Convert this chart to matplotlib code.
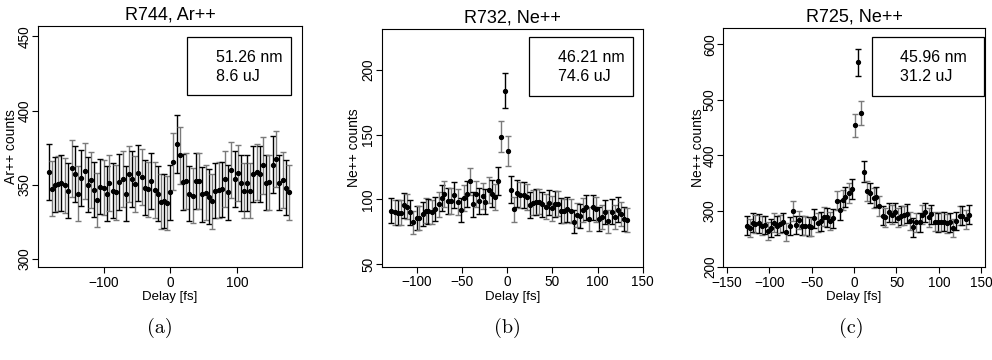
import numpy as np
import matplotlib
matplotlib.use('Agg')
import matplotlib.pyplot as plt
from matplotlib.patches import Rectangle

plt.rcParams['font.family'] = ['Liberation Sans', 'DejaVu Sans']
plt.rcParams['axes.unicode_minus'] = True

# ---------------- data ----------------
titles = ["R744, Ar++", "R732, Ne++", "R725, Ne++"]
ylabels = ["Ar++ counts", "Ne++ counts", "Ne++ counts"]
info_lines = [["51.26 nm", "8.6 uJ"], ["46.21 nm", "74.6 uJ"], ["45.96 nm", "31.2 uJ"]]
sub_labels = ["(a)", "(b)", "(c)"]

delay_a = [-182.4, -177.3, -172.8, -168.8, -163.7, -158.7, -153.7, -148.6, -143.6, -138.5,
           -134.0, -129.0, -124.4, -119.9, -114.8, -109.8, -105.3, -100.3, -95.7, -91.7,
           -86.6, -81.6, -76.6, -71.5, -67.0, -62.0, -57.4, -52.9, -47.9, -42.8,
           -38.3, -33.2, -28.7, -23.7, -19.1, -14.1, -9.1, -4.5, 0.0, 4.5,
           9.6, 14.6, 19.1, 23.7, 28.7, 33.7, 38.8, 43.3, 48.3, 53.4,
           57.9, 62.9, 67.5, 72.5, 77.0, 82.1, 87.1, 91.6, 96.7, 101.2,
           106.2, 111.3, 115.8, 120.3, 124.9, 129.9, 134.9, 139.5, 144.0, 149.0,
           154.1, 158.6, 163.7, 168.7, 173.7, 178.3]
counts_a = [358.8, 347.3, 350.0, 350.7, 351.1, 349.5, 346.0, 361.0, 357.0, 344.0,
            354.7, 359.0, 350.0, 353.0, 346.6, 339.6, 348.6, 348.0, 344.0, 351.0,
            346.0, 345.0, 352.0, 354.0, 344.0, 357.0, 353.8, 350.5, 357.7, 355.0,
            348.0, 346.8, 352.7, 346.4, 344.0, 338.5, 339.0, 337.8, 345.0, 365.5,
            377.5, 370.0, 351.8, 352.7, 344.0, 342.6, 352.7, 352.7, 343.7, 344.6,
            342.0, 338.7, 346.0, 346.4, 347.0, 353.6, 344.8, 359.7, 354.0, 357.7,
            351.0, 346.0, 351.0, 346.0, 357.4, 358.3, 357.0, 363.0, 351.4, 351.6,
            363.5, 367.3, 351.4, 353.4, 348.0, 344.8]

delay_b = [-128.4, -124.4, -121.5, -117.8, -114.5, -111.3, -107.6, -104.0, -100.4, -97.8,
           -93.8, -90.2, -87.3, -83.6, -80.0, -76.0, -72.7, -69.5, -65.5, -62.5,
           -58.5, -54.5, -51.3, -48.0, -44.7, -41.1, -37.8, -34.5, -30.9, -27.3,
           -24.4, -20.4, -17.1, -13.5, -9.8, -6.5, -2.9, 0.7, 4.0, 7.6,
           10.9, 14.5, 18.2, 21.5, 25.1, 28.7, 32.0, 35.3, 38.9, 42.5,
           46.2, 49.5, 53.1, 56.4, 60.0, 63.3, 66.5, 70.2, 73.5, 76.7,
           80.4, 84.0, 87.6, 90.9, 94.5, 97.8, 101.5, 104.7, 108.4, 112.0,
           115.6, 118.9, 122.5, 125.8, 129.5, 133.0]
counts_b = [91.2, 90.0, 89.7, 89.7, 95.4, 94.3, 90.0, 82.2, 85.6, 85.6,
            88.4, 91.2, 90.7, 90.2, 92.5, 96.1, 101.0, 103.9, 98.7, 98.7,
            103.4, 97.7, 91.8, 101.0, 103.9, 113.9, 96.1, 103.9, 98.7, 102.3,
            98.2, 107.2, 104.4, 102.0, 114.2, 148.5, 184.0, 137.4, 107.5, 92.3,
            104.6, 103.1, 103.1, 102.1, 95.6, 97.4, 97.7, 98.2, 96.1, 94.3,
            97.4, 93.0, 96.4, 96.6, 91.2, 91.0, 92.3, 91.0, 82.7, 87.6,
            87.4, 91.8, 93.8, 84.8, 93.8, 92.3, 85.0, 86.3, 90.2, 83.0,
            90.5, 86.0, 92.0, 88.7, 84.5, 83.8]

delay_c = [-126.4, -123.3, -119.7, -116.5, -112.6, -109.0, -105.6, -102.0, -98.0, -94.5,
           -90.9, -87.8, -83.5, -79.9, -76.0, -72.0, -68.5, -65.0, -61.4, -57.9,
           -53.9, -50.4, -46.9, -42.9, -39.0, -35.1, -31.5, -28.0, -24.4, -20.8,
           -16.9, -13.7, -10.3, -6.3, -2.7, 0.8, 4.7, 8.2, 11.8, 15.4,
           18.9, 22.9, 26.3, 29.9, 33.5, 37.0, 41.0, 44.4, 48.0, 51.6,
           55.1, 58.7, 62.6, 66.1, 69.7, 73.6, 77.2, 80.7, 84.2, 87.8,
           91.3, 95.3, 98.9, 102.4, 105.9, 109.8, 113.4, 117.0, 120.5, 124.4,
           127.9, 131.9, 135.1]
counts_c = [274.0, 269.0, 279.0, 277.0, 278.0, 274.0, 275.0, 264.0, 269.5, 279.0,
            274.0, 277.0, 280.0, 262.0, 273.0, 300.0, 275.0, 284.0, 274.0, 274.0,
            272.5, 271.0, 287.0, 279.0, 281.4, 290.0, 289.0, 282.0, 287.4, 319.0,
            302.0, 320.0, 325.0, 332.0, 339.5, 454.0, 567.7, 477.0, 371.0, 336.0,
            332.0, 323.0, 325.0, 309.6, 291.6, 289.0, 297.6, 293.4, 297.6, 288.0,
            292.0, 292.8, 295.0, 282.0, 270.7, 279.6, 279.6, 293.4, 298.0, 289.0,
            294.6, 280.8, 280.0, 280.8, 280.8, 277.8, 280.0, 269.5, 282.0, 291.6,
            291.6, 285.0, 293.4]

xticks = [[-100, 0, 100], [-100, -50, 0, 50, 100, 150], [-150, -100, -50, 0, 50, 100, 150]]
yticks = [[300, 350, 400, 450], [50, 100, 150, 200], [200, 300, 400, 500, 600]]
xlims = [(-199, 198), (-139, 146), (-154.5, 154.5)]
ylims = [(294.5, 457), (47.9, 231.4), (198.9, 628.8)]

delays = [delay_a, delay_b, delay_c]
counts = [counts_a, counts_b, counts_c]

# ---------------- layout (pixels) ----------------
W, H = 992, 360
fig = plt.figure(figsize=(W / 100, H / 100), dpi=100)

axes_px = [(38, 26, 302, 267), (381.7, 29.3, 642.7, 266.7), (723.3, 28.3, 985, 267.3)]
box_px = [(187.3, 37.3, 291, 95), (529.3, 37.3, 633.3, 95.7), (871.7, 37.3, 983.5, 95.7)]
text_x = [216, 557.7, 900]
ylab_x = [11.0, 353.5, 697.5]
sub_x = [160, 507, 851]


def fx(x):
    return x / W


def fy(y):
    return 1 - y / H


for i in range(3):
    l, t, r, b = axes_px[i]
    ax = fig.add_axes([fx(l), fy(b), (r - l) / W, (b - t) / H])
    d = np.array(delays[i])
    c = np.array(counts[i])
    err = np.sqrt(c)
    for j in range(len(d)):
        col = 'black' if j % 2 == 0 else '#7a7a7a'
        ax.errorbar(d[j], c[j], yerr=err[j], fmt='none', ecolor=col,
                    elinewidth=1.0, capsize=2.2, capthick=1.0, zorder=2)
    ax.plot(d, c, 'o', color='black', markersize=2.8, zorder=3)
    ax.set_xlim(*xlims[i])
    ax.set_ylim(*ylims[i])
    ax.set_xticks(xticks[i])
    ax.set_yticks(yticks[i])
    ax.tick_params(axis='both', direction='out', length=4.3, width=0.8,
                   labelsize=9.8)
    ax.tick_params(axis='x', pad=2)
    ax.tick_params(axis='y', pad=0.3)
    for lab in ax.get_yticklabels():
        lab.set_rotation(90)
        lab.set_va('center')
        lab.set_ha('right')
    for sp in ax.spines.values():
        sp.set_linewidth(0.8)
    ax.set_title(titles[i], fontsize=13, pad=5)
    ax.set_xlabel("Delay [fs]", fontsize=9.5, labelpad=1)
    ax.set_ylabel(ylabels[i], fontsize=10)
    ax.yaxis.label.set_va('center')
    ax.yaxis.set_label_coords((ylab_x[i] - l) / (r - l), 0.5)

    bl, bt, br, bb = box_px[i]
    fig.patches.append(Rectangle((fx(bl), fy(bb)), (br - bl) / W, (bb - bt) / H,
                                 transform=fig.transFigure, fill=False,
                                 edgecolor='black', linewidth=0.9))
    fig.text(fx(text_x[i]), fy(57.5), info_lines[i][0], fontsize=11.5,
             ha='left', va='center')
    fig.text(fx(text_x[i]), fy(76.5), info_lines[i][1], fontsize=11.5,
             ha='left', va='center')
    fig.text(fx(sub_x[i]), fy(328), sub_labels[i], fontsize=14.5,
             family='cmr10', ha='center', va='center')

fig.savefig('out.png', dpi=100)
